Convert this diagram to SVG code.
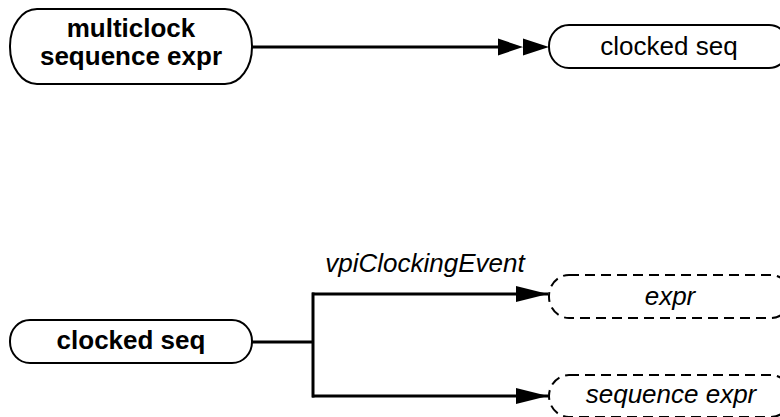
<svg xmlns="http://www.w3.org/2000/svg" width="780" height="417" viewBox="0 0 780 417">
<style>
.node{fill:#fff;stroke:#000;stroke-width:2}
.dash{fill:#fff;stroke:#000;stroke-width:2;stroke-dasharray:10 6}
.edge{fill:none;stroke:#000;stroke-width:3}
.t{font-family:"Liberation Sans",Arial,sans-serif;font-size:26px;text-anchor:middle;fill:#000}
.b{font-weight:bold}
.i{font-style:italic}
</style>
<defs>
<marker id="arr" markerWidth="32" markerHeight="18" refX="32" refY="9" orient="auto" markerUnits="userSpaceOnUse">
<path d="M0,1 L32,9 L0,17 Z" fill="#000"/>
</marker>
</defs>
<rect width="780" height="417" fill="#fff"/>
<g id="edges">
<line class="edge" x1="252" y1="47" x2="498" y2="47"/>
<path d="M498,38.5 L523,47 L498,55.5 Z M523,38.5 L549,47 L523,55.5 Z" fill="#000"/>
<polyline class="edge" points="252,342 313,342"/>
<polyline class="edge" points="313,292.5 313,397.5"/>
<line class="edge" x1="312" y1="294" x2="548" y2="294" marker-end="url(#arr)"/>
<line class="edge" x1="312" y1="396" x2="548" y2="396" marker-end="url(#arr)"/>
<text class="t i" x="425" y="272">vpiClockingEvent</text>
</g>
<g id="n1">
<rect class="node" x="10" y="9" width="242" height="75" rx="27" ry="37"/>
<text class="t b" x="131" y="37">multiclock</text>
<text class="t b" x="131" y="65">sequence expr</text>
</g>
<g id="n2">
<rect class="node" x="549" y="25" width="240" height="43" rx="20" ry="21"/>
<text class="t" x="669" y="55">clocked seq</text>
</g>
<g id="n3">
<rect class="node" x="10" y="320" width="242" height="43" rx="20" ry="21"/>
<text class="t b" x="131" y="349">clocked seq</text>
</g>
<g id="n4">
<rect class="dash" x="549" y="275" width="242" height="43" rx="20" ry="21"/>
<text class="t i" x="670" y="305">expr</text>
</g>
<g id="n5">
<rect class="dash" x="549" y="375" width="242" height="42" rx="20" ry="21"/>
<text class="t i" x="671" y="403">sequence expr</text>
</g>
</svg>
